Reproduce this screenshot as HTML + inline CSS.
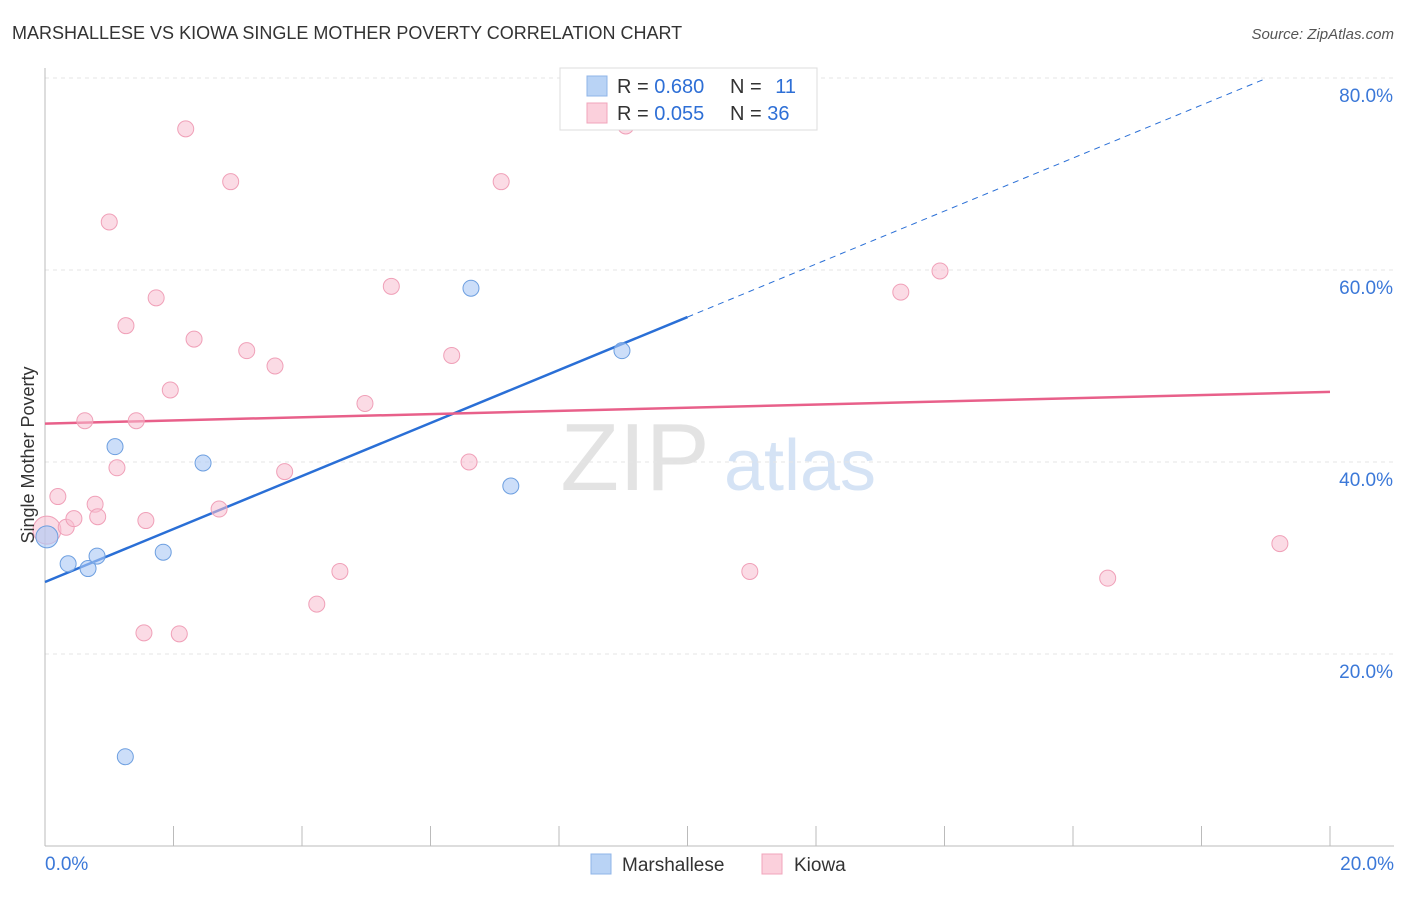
<!DOCTYPE html>
<html><head><meta charset="utf-8"><style>
body{margin:0;background:#fff;font-family:"Liberation Sans",sans-serif;}
svg text{font-family:"Liberation Sans",sans-serif;}
</style></head><body>
<svg id="c" width="1406" height="892">
<text x="12" y="39" font-size="18" fill="#333">MARSHALLESE VS KIOWA SINGLE MOTHER POVERTY CORRELATION CHART</text>
<text x="1394" y="39" font-size="15" fill="#555" font-style="italic" text-anchor="end">Source: ZipAtlas.com</text>
<text x="635" y="490" font-size="96" fill="#e3e3e3" font-family="Liberation Serif" text-anchor="middle">ZIP</text>
<text x="800" y="490" font-size="72" fill="#d5e3f5" text-anchor="middle">atlas</text>
<g id="grid"></g><g id="axes"></g><g id="trend"></g><g id="pts"></g>
<text x="34" y="455" font-size="18" fill="#333" text-anchor="middle" transform="rotate(-90 34 455)">Single Mother Poverty</text>
<g>
<rect x="560" y="68" width="257" height="62" fill="#fff" stroke="#ddd"/>
<rect x="587" y="76" width="20" height="20" fill="#b9d3f5" stroke="#8fb5e8"/>
<rect x="587" y="103" width="20" height="20" fill="#fbd0dc" stroke="#f0a5bb"/>
<text x="617" y="93" font-size="20" fill="#333">R = <tspan fill="#2e6fd6">0.680</tspan></text>
<text x="730" y="93" font-size="20" fill="#333">N = <tspan fill="#2e6fd6" dx="8">11</tspan></text>
<text x="617" y="120" font-size="20" fill="#333">R = <tspan fill="#2e6fd6">0.055</tspan></text>
<text x="730" y="120" font-size="20" fill="#333">N = <tspan fill="#2e6fd6">36</tspan></text>
</g>
<g>
<rect x="591" y="854" width="20" height="20" fill="#b9d3f5" stroke="#8fb5e8"/>
<text x="622" y="871" font-size="19" fill="#333">Marshallese</text>
<rect x="762" y="854" width="20" height="20" fill="#fbd0dc" stroke="#f0a5bb"/>
<text x="794" y="871" font-size="19" fill="#333">Kiowa</text>
</g>
</svg>
<script>
const yTicks=[20,40,60,80];
const xTickLabels=["0.0%","20.0%"];
const blueX=[0.03,0.36,0.67,0.81,1.09,1.25,1.84,2.46,6.63,7.25,8.98];
const blueY=[32.2,29.4,28.9,30.2,41.6,9.3,30.6,39.9,58.1,37.5,51.6];
const pinkX=[0.03,0.20,0.33,0.45,0.62,0.78,0.82,1.00,1.12,1.26,1.42,1.54,1.57,1.73,1.95,2.09,2.19,2.32,2.71,2.89,3.14,3.58,3.73,4.23,4.59,4.98,5.39,6.33,6.60,7.10,9.04,10.97,13.32,13.93,16.54,19.22];
const pinkY=[32.9,36.4,33.2,34.1,44.3,35.6,34.3,65.0,39.4,54.2,44.3,22.2,33.9,57.1,47.5,22.1,74.7,52.8,35.1,69.2,51.6,50.0,39.0,25.2,28.6,46.1,58.3,51.1,40.0,69.2,75.0,28.6,57.7,59.9,27.9,31.5];
const blueTrend=[27.5,2.76];
const pinkTrend=[44.0,0.165];
const NS="http://www.w3.org/2000/svg";
const X=v=>45+v/20*1285, Y=v=>846-v/20*192;
function mk(p,t,a){const e=document.createElementNS(NS,t);for(const k in a)e.setAttribute(k,a[k]);document.getElementById(p).appendChild(e);return e;}
yTicks.forEach(t=>{
 let l=mk('grid','line',{x1:45,x2:1394,y1:Y(t),y2:Y(t),stroke:'#e5e5e5','stroke-dasharray':'4,4'});
 
 
 let tx=mk('grid','text',{x:1393,y:Y(t)+24,'font-size':19,fill:'#3b78d8','text-anchor':'end'});
 tx.textContent=t.toFixed(1)+'%';
 
 
});
let ax=mk('axes','line',{x1:45,x2:1394,y1:846,y2:846,stroke:'#bbb'});


let ay=mk('axes','line',{x1:45,x2:45,y1:68,y2:846,stroke:'#bbb'});


for(let i=1;i<=10;i++){let t=mk('axes','line',{x1:X(i*2),x2:X(i*2),y1:826,y2:846,stroke:'#bbb'});
 
 }
xTickLabels.forEach((s,i)=>{let t=mk('axes','text',{x:i?1394:45,y:870,'font-size':19,fill:'#3b78d8','text-anchor':i?'end':'start'});t.textContent=s;
 
 });
const bt=x=>blueTrend[0]+blueTrend[1]*x, pt=x=>pinkTrend[0]+pinkTrend[1]*x;
let b1=mk('trend','line',{x1:X(0),y1:Y(bt(0)),x2:X(10),y2:Y(bt(10)),stroke:'#2a6fd6','stroke-width':2.5});


let xe=(80-blueTrend[0])/blueTrend[1];
let b2=mk('trend','line',{x1:X(10),y1:Y(bt(10)),x2:X(xe),y2:Y(80),stroke:'#2a6fd6','stroke-width':1,'stroke-dasharray':'6,5'});


let p1=mk('trend','line',{x1:X(0),y1:Y(pt(0)),x2:X(20),y2:Y(pt(20)),stroke:'#e8608a','stroke-width':2.5});


pinkX.forEach((x,i)=>{let c=mk('pts','circle',{cx:X(x),cy:Y(pinkY[i]),r:i?8:14,fill:'rgba(248,190,208,0.55)',stroke:'#f0a0b8','stroke-width':1});
 
 });
blueX.forEach((x,i)=>{let c=mk('pts','circle',{cx:X(x),cy:Y(blueY[i]),r:i?8:11,fill:'rgba(170,200,245,0.6)',stroke:'#6d9fe0','stroke-width':1});
 
 });
</script>
</body></html>
